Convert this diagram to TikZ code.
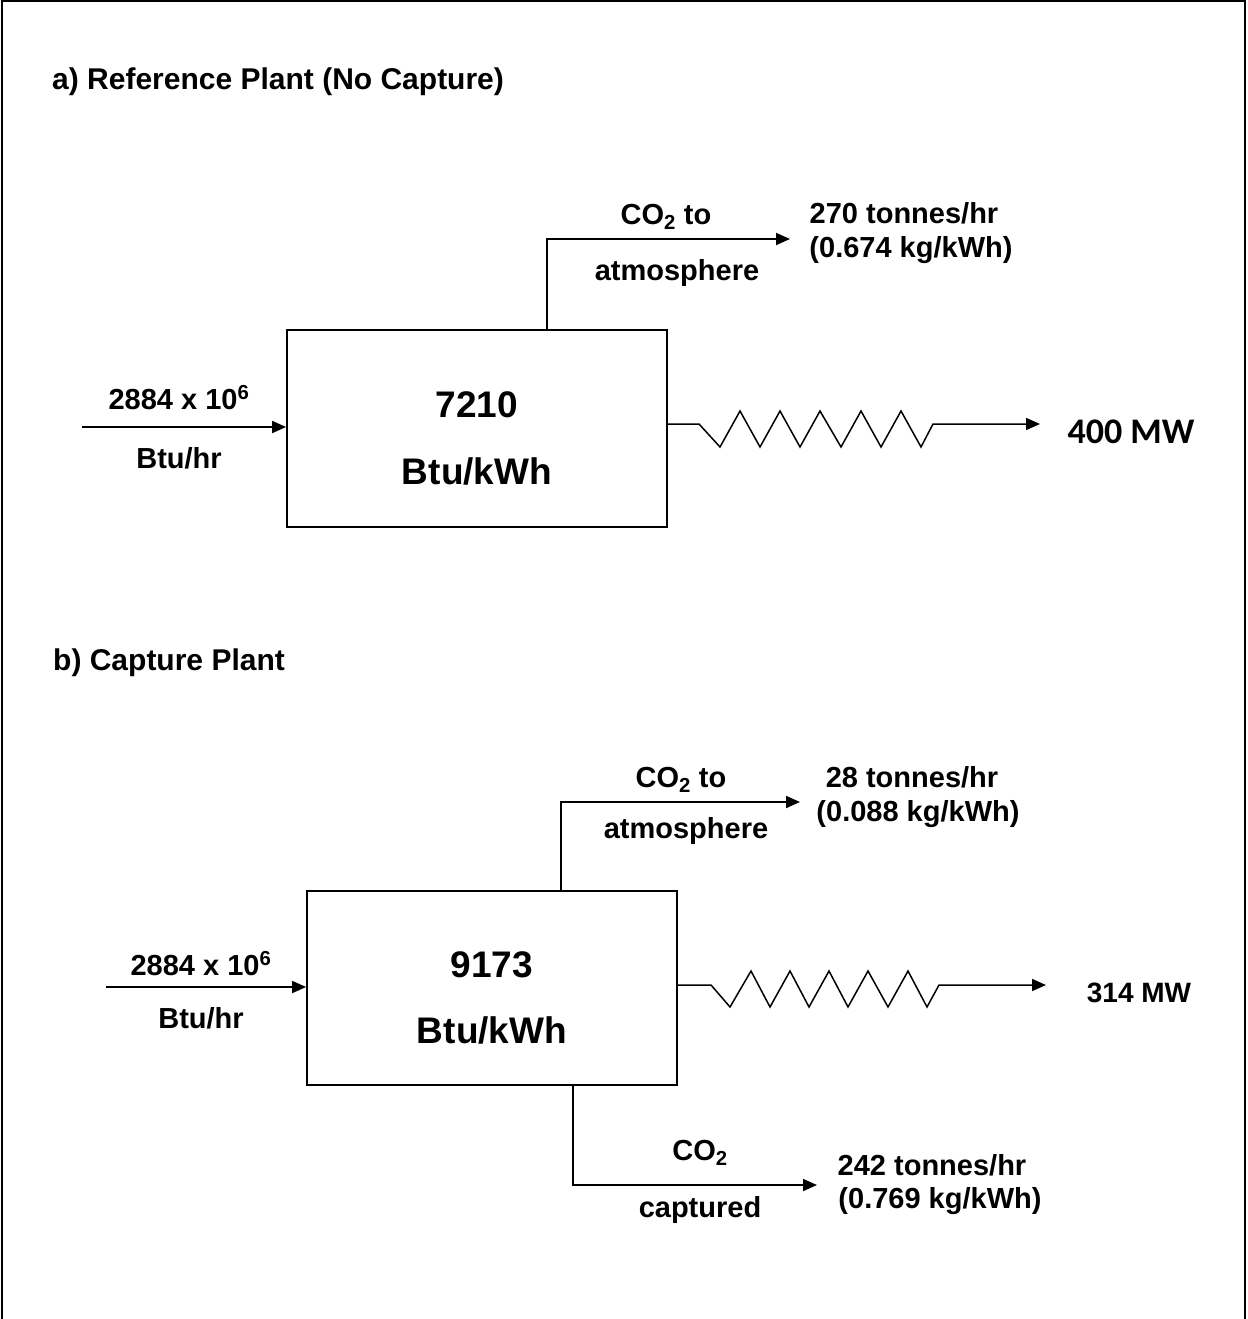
\documentclass[tikz,border=0pt]{standalone}
\usepackage{fontspec}
\setmainfont{Liberation Sans}
\newfontfamily\carlitofont{Carlito}
\usetikzlibrary{arrows.meta}
\begin{document}
\begin{tikzpicture}[x=1pt,y=-1pt,
  lbl/.style={font=\fontsize{29}{34}\selectfont\bfseries, inner sep=0pt, anchor=base},
  ttl/.style={font=\fontsize{30}{36}\selectfont\bfseries, inner sep=0pt, anchor=base west},
  big/.style={font=\fontsize{37}{44}\selectfont\bfseries, inner sep=0pt, anchor=base},
  plantbox/.style={draw, line width=1.8pt, minimum width=380pt, minimum height=197pt, inner sep=0pt},
  flow/.style={line width=1.8pt, -{Triangle[length=14pt,width=12pt]}},
  spring/.style={line width=1.5pt, -{Triangle[length=14pt,width=12pt]}},
  ]
\useasboundingbox (0,0) rectangle (1247,1319);
% frame (open at the bottom)
\draw[line width=2pt] (1.5,1319) -- (1.5,1.5) -- (1244.5,1.5) -- (1244.5,1319);

% ---------- a) Reference plant ----------
\node[ttl] (titleA) at (52,90) {a) Reference Plant (No Capture)};
\node[plantbox] (boxA) at (477,428.5) {};
\node[big] (heatA) at (477,417) {7210};
\node[big] (unitA) at (477,484) {Btu/kWh};
\coordinate (inA) at (82,427);
\draw[flow] (inA) -- (inA -| boxA.west);
\node[lbl] (fuelA) at (179,409) {2884 x 10\textsuperscript{6}};
\node[lbl] (fuelunitA) at (179,468) {Btu/hr};
\coordinate (ventA) at (547,239);
\coordinate (ventAend) at (790,239);
\draw[flow] (ventA |- boxA.north) -- (ventA) -- (ventAend);
\node[lbl] (co2A) at (666,224) {CO\textsubscript{2} to};
\node[lbl] (atmA) at (677,280) {atmosphere};
\node[lbl] (emitA1) at (904,223) {270 tonnes/hr};
\node[lbl] (emitA2) at (911,257) {(0.674 kg/kWh)};
\coordinate (zA) at (699,424);
\coordinate (powA) at (1040,424);
\draw[spring] (zA -| boxA.east) -- (zA) -- (720,447) -- (740,411) -- (760,447) -- (780,411)
  -- (800,447) -- (820,411) -- (841,447) -- (861,411) -- (881,447) -- (901,411)
  -- (921,447) -- (933,424) -- (powA);
\node[font=\carlitofont\fontsize{36}{43}\selectfont\bfseries, inner sep=0pt, anchor=base] (mwA) at (1131,443) {400 MW};

% ---------- b) Capture plant ----------
\node[ttl] (titleB) at (53,670) {b) Capture Plant};
\node[plantbox, minimum width=370pt, minimum height=194pt] (boxB) at (492,988) {};
\node[big] (heatB) at (492,977) {9173};
\node[big] (unitB) at (492,1043) {Btu/kWh};
\coordinate (inB) at (106,987);
\draw[flow] (inB) -- (inB -| boxB.west);
\node[lbl] (fuelB) at (201,975) {2884 x 10\textsuperscript{6}};
\node[lbl] (fuelunitB) at (201,1028) {Btu/hr};
\coordinate (ventB) at (561,802);
\coordinate (ventBend) at (800,802);
\draw[flow] (ventB |- boxB.north) -- (ventB) -- (ventBend);
\node[lbl] (co2B) at (681,787) {CO\textsubscript{2} to};
\node[lbl] (atmB) at (686,838) {atmosphere};
\node[lbl] (emitB1) at (912,787) {28 tonnes/hr};
\node[lbl] (emitB2) at (918,821) {(0.088 kg/kWh)};
\coordinate (zB) at (711,985);
\coordinate (powB) at (1046,985);
\draw[spring] (zB -| boxB.east) -- (zB) -- (730,1007) -- (751,971) -- (770,1007) -- (790,971)
  -- (809,1007) -- (829,971) -- (848,1007) -- (868,971) -- (888,1007) -- (908,971)
  -- (927,1007) -- (939,985) -- (powB);
\node[lbl, font=\fontsize{28}{34}\selectfont\bfseries] (mwB) at (1139,1002) {314 MW};
\coordinate (capB) at (573,1185);
\coordinate (capBend) at (817,1185);
\draw[flow] (capB |- boxB.south) -- (capB) -- (capBend);
\node[lbl] (co2C) at (700,1160) {CO\textsubscript{2}};
\node[lbl] (capt) at (700,1217) {captured};
\node[lbl] (storeB1) at (932,1175) {242 tonnes/hr};
\node[lbl] (storeB2) at (940,1208) {(0.769 kg/kWh)};
\end{tikzpicture}
\end{document}
